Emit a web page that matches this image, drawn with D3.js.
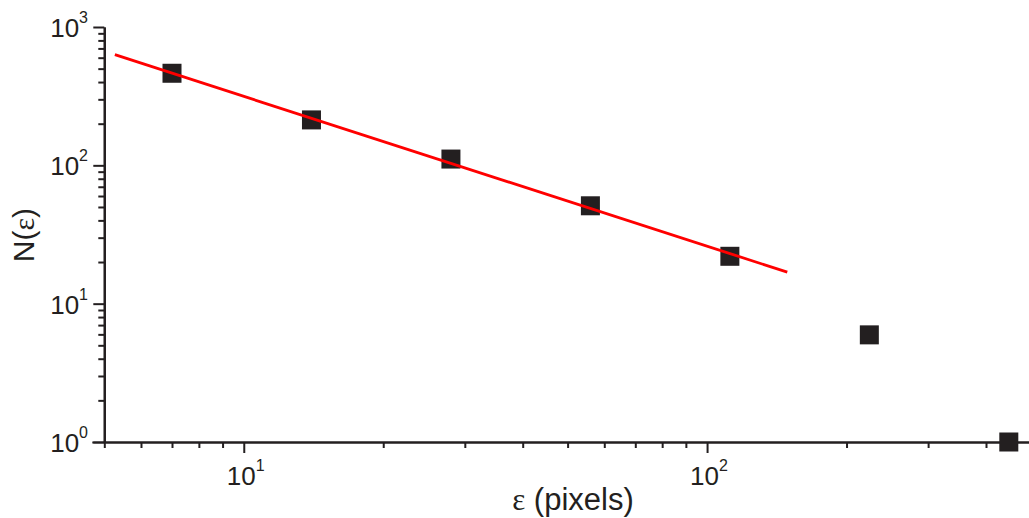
<!DOCTYPE html>
<html>
<head>
<meta charset="utf-8">
<script src="https://cdn.jsdelivr.net/npm/d3@7"></script>
<style>
  html, body { margin: 0; padding: 0; background: #fff; }
  svg { display: block; }
</style>
</head>
<body>
<svg id="chart" width="1029" height="518"></svg>
<script>
// Data (box-counting: box size vs number of boxes)
const epsilon = [7, 14, 28, 56, 112, 224, 448];
const counts  = [463, 213, 111, 51, 22, 5.95, 1];
// Fitted power-law line endpoints
const fitX = [5.27, 149];
const fitY = [631, 16.9];
// Axis settings
const xDomain = [5, 500];
const yDomain = [1, 1000];
const xMajor = [10, 100];
const xMinor = [5, 6, 7, 8, 9, 20, 30, 40, 50, 60, 70, 80, 90, 200, 300, 400, 500];
const yMajor = [1, 10, 100, 1000];
const yMinor = [2,3,4,5,6,7,8,9,20,30,40,50,60,70,80,90,200,300,400,500,600,700,800,900];
const xMajorExp = ["1", "2"];
const yMajorExp = ["0", "1", "2", "3"];

const ink = "#231f20";
const svg = d3.select("#chart");

const x = d3.scaleLog().domain(xDomain).range([104.3, 1030.9]);
const y = d3.scaleLog().domain(yDomain).range([442, 27]);

// X axis
const xAxisMinor = d3.axisBottom(x).tickValues(xMinor).tickSize(6).tickSizeOuter(0).tickFormat("");
const xAxisMajor = d3.axisBottom(x).tickValues(xMajor).tickSize(11).tickSizeOuter(0).tickFormat("");
const gx1 = svg.append("g").attr("transform", "translate(0,442)").call(xAxisMinor);
const gx2 = svg.append("g").attr("transform", "translate(0,442)").call(xAxisMajor);
[gx1, gx2].forEach(g => {
  g.selectAll("line").attr("stroke", ink).attr("stroke-width", 2);
  g.select(".domain").attr("stroke", ink).attr("stroke-width", 2);
});
gx2.select(".domain").attr("d", `M${x.range()[0]-12},0.5H${x.range()[1]}`);

// Y axis
const yAxisMinor = d3.axisLeft(y).tickValues(yMinor).tickSize(6).tickSizeOuter(0).tickFormat("");
const yAxisMajor = d3.axisLeft(y).tickValues(yMajor).tickSize(11).tickSizeOuter(0).tickFormat("");
const gy1 = svg.append("g").attr("transform", "translate(104.3,0)").call(yAxisMinor);
const gy2 = svg.append("g").attr("transform", "translate(104.3,0)").call(yAxisMajor);
[gy1, gy2].forEach(g => {
  g.selectAll("line").attr("stroke", ink).attr("stroke-width", 2);
  g.select(".domain").attr("stroke", ink).attr("stroke-width", 2.2);
});

// X tick labels
const xl = svg.append("g").attr("font-family", "'Liberation Sans', Arial, sans-serif").attr("fill", ink);
xMajor.forEach((v, i) => {
  const t = xl.append("text").attr("x", x(v) - 17).attr("y", 485).attr("font-size", 26);
  t.append("tspan").text("10");
  t.append("tspan").attr("font-size", 16).attr("dy", -14).text(xMajorExp[i]);
});

// Y tick labels
yMajor.forEach((v, i) => {
  const t = xl.append("text").attr("x", 88).attr("y", y(v) + 10).attr("font-size", 26).attr("text-anchor", "end");
  t.append("tspan").text("10");
  t.append("tspan").attr("font-size", 16).attr("dy", -14).text(yMajorExp[i]);
});

// Axis titles
const xt = svg.append("text").attr("x", 573).attr("y", 510).attr("text-anchor", "middle")
  .attr("font-family", "'Liberation Sans', Arial, sans-serif").attr("font-size", 31).attr("fill", ink);
xt.append("tspan").attr("font-family", "'Liberation Serif', 'Times New Roman', serif").text("ε");
xt.append("tspan").text(" (pixels)");

const yt = svg.append("text").attr("transform", "translate(34,235) rotate(-90)").attr("text-anchor", "middle")
  .attr("font-family", "'Liberation Sans', Arial, sans-serif").attr("font-size", 30).attr("fill", ink);
yt.append("tspan").text("N(");
yt.append("tspan").attr("font-family", "'Liberation Serif', 'Times New Roman', serif").text("ε");
yt.append("tspan").text(")");

// Data squares
const s = 19;
svg.append("g").selectAll("rect").data(epsilon).join("rect")
  .attr("x", (d) => x(d) - s / 2)
  .attr("y", (d, i) => y(counts[i]) - s / 2)
  .attr("width", s).attr("height", s)
  .attr("fill", ink);

// Fit line
svg.append("path")
  .datum(fitX.map((d, i) => [d, fitY[i]]))
  .attr("d", d3.line().x(d => x(d[0])).y(d => y(d[1])))
  .attr("fill", "none").attr("stroke", "#ff0000").attr("stroke-width", 2.8);
</script>
</body>
</html>
